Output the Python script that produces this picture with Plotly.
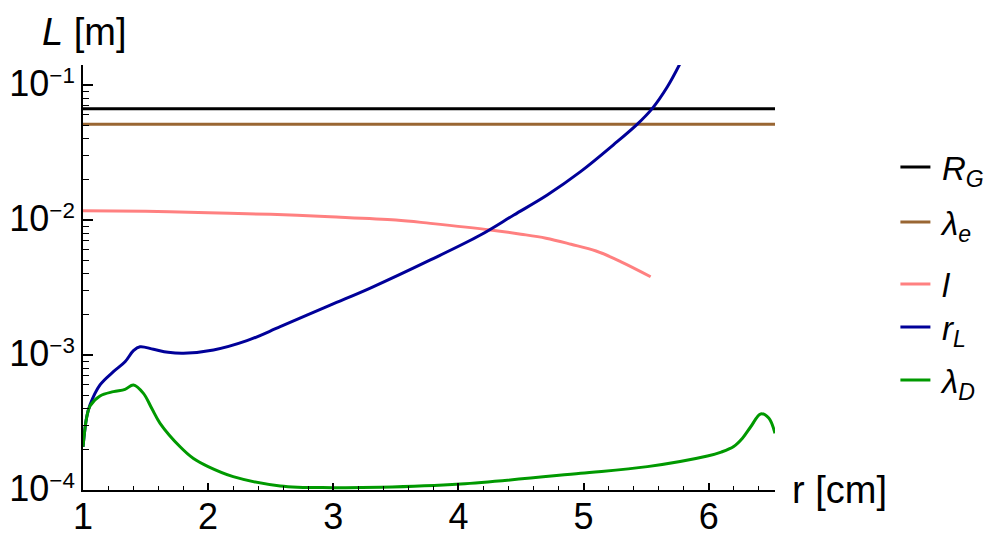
import plotly.graph_objects as go

# r [cm] axis span and the two constant scales
r_span = [1.0, 6.53]
R_G = [0.0668, 0.0668]
lambda_e = [0.0512, 0.0512]

# l (pink)
r_l = [1.0, 1.5, 2.0, 2.5, 2.976, 3.5, 3.776, 4.256, 4.5, 4.7, 4.9, 5.1, 5.3, 5.536]
l_vals = [1.172e-2, 1.159e-2, 1.132e-2, 1.101e-2, 1.057e-2, 1.0e-2, 9.44e-3,
          8.43e-3, 7.85e-3, 7.33e-3, 6.61e-3, 5.89e-3, 4.90e-3, 3.80e-3]

# r_L (blue)
r_rL = [1.0, 1.03, 1.056, 1.136, 1.243, 1.336, 1.403, 1.456, 1.563, 1.68, 1.803,
        2.043, 2.31, 2.576, 2.976, 3.296, 3.776, 4.176, 4.443, 4.71, 4.976,
        5.243, 5.43, 5.55, 5.67, 5.776]
rL_vals = [2.09e-4, 3.49e-4, 4.27e-4, 6.0e-4, 7.52e-4, 8.91e-4, 1.076e-3, 1.151e-3,
           1.102e-3, 1.047e-3, 1.030e-3, 1.089e-3, 1.276e-3, 1.62e-3, 2.34e-3,
           3.13e-3, 5.06e-3, 7.74e-3, 1.089e-2, 1.531e-2, 2.28e-2, 3.63e-2,
           5.13e-2, 6.71e-2, 9.70e-2, 0.147]

# lambda_D (green)
r_lD = [1.0, 1.03, 1.056, 1.136, 1.243, 1.336, 1.403, 1.483, 1.549, 1.616, 1.776,
        1.883, 2.0, 2.2, 2.576, 3.0, 3.376, 4.016, 4.976, 5.51, 5.99, 6.1, 6.2,
        6.27, 6.336, 6.416, 6.48, 6.53]
lD_vals = [2.09e-4, 3.47e-4, 4.19e-4, 4.97e-4, 5.35e-4, 5.57e-4, 6.0e-4, 5.20e-4,
           4.03e-4, 3.12e-4, 2.09e-4, 1.71e-4, 1.49e-4, 1.256e-4, 1.072e-4,
           1.040e-4, 1.047e-4, 1.107e-4, 1.33e-4, 1.49e-4, 1.786e-4, 1.91e-4,
           2.10e-4, 2.42e-4, 2.94e-4, 3.66e-4, 3.41e-4, 2.63e-4]

y_ticks = [1e-4, 1e-3, 1e-2, 1e-1]
y_exps = ["−4", "−3", "−2", "−1"]
y_ticktext = ["<span style='font-size:36px'>10</span><sup>%s</sup>" % e for e in y_exps]

FONT = "Liberation Sans, Arial, sans-serif"
SP = "\u2009"

fig = go.Figure()
fig.add_trace(go.Scatter(x=r_span, y=R_G, mode="lines", name=SP + "<i>R</i><sub><i>G</i></sub>",
                         legend="legend", line=dict(color="#000000", width=3)))
fig.add_trace(go.Scatter(x=r_span, y=lambda_e, mode="lines", name=SP + "<i>λ</i><sub><i>e</i></sub>",
                         legend="legend2", line=dict(color="#996633", width=3)))
fig.add_trace(go.Scatter(x=r_l, y=l_vals, mode="lines", name=SP + "<i>l</i>",
                         legend="legend3", line=dict(color="#FF8080", width=3, shape="spline")))
fig.add_trace(go.Scatter(x=r_rL, y=rL_vals, mode="lines", name=SP + "<i>r</i><sub><i>L</i></sub>",
                         legend="legend4", line=dict(color="#000099", width=3, shape="spline")))
fig.add_trace(go.Scatter(x=r_lD, y=lD_vals, mode="lines", name=SP + "<i>λ</i><sub><i>D</i></sub>",
                         legend="legend5", line=dict(color="#009900", width=3, shape="spline")))


def leg(y):
    return dict(x=1.174, y=y, xanchor="left", yanchor="middle",
                font=dict(size=33), itemwidth=30, bgcolor="rgba(0,0,0,0)")


# page body adds ~8px offset, so margins are trimmed by that amount
fig.update_layout(
    width=1000, height=550,
    paper_bgcolor="white", plot_bgcolor="white",
    font=dict(family=FONT, color="black", size=34),
    margin=dict(l=75, r=233, t=57, b=68),
    showlegend=True,
    legend=leg(0.76), legend2=leg(0.6306), legend3=leg(0.4847),
    legend4=leg(0.3835), legend5=leg(0.2588),
    xaxis=dict(
        range=r_span, showgrid=False, zeroline=False, automargin=False,
        showline=True, linecolor="black", linewidth=1.5,
        ticks="inside", ticklen=7, tickwidth=1.5, tickcolor="black",
        dtick=1, tick0=1, tickfont=dict(size=36), ticklabelstandoff=-6,
        minor=dict(ticks="inside", ticklen=4, tickwidth=1, tickcolor="black",
                   dtick=0.2, showgrid=False),
    ),
    yaxis=dict(
        type="log", range=[-4, -0.852], showgrid=False, zeroline=False, automargin=False,
        showline=True, linecolor="black", linewidth=1.5,
        ticks="inside", ticklen=10, tickwidth=1.5, tickcolor="black",
        tickvals=y_ticks, ticktext=y_ticktext, tickfont=dict(size=32),
        minor=dict(ticks="inside", ticklen=6, tickwidth=1, tickcolor="black",
                   dtick="D1", showgrid=False),
    ),
    annotations=[
        dict(text="<i>L</i> [m]", xref="paper", yref="paper", x=-0.062, y=1.078,
             xanchor="left", yanchor="middle", showarrow=False, font=dict(size=38)),
        dict(text="r [cm]", xref="paper", yref="paper", x=1.022, y=0.0,
             xanchor="left", yanchor="middle", showarrow=False, font=dict(size=38)),
    ],
)

fig.write_html("out.html")
